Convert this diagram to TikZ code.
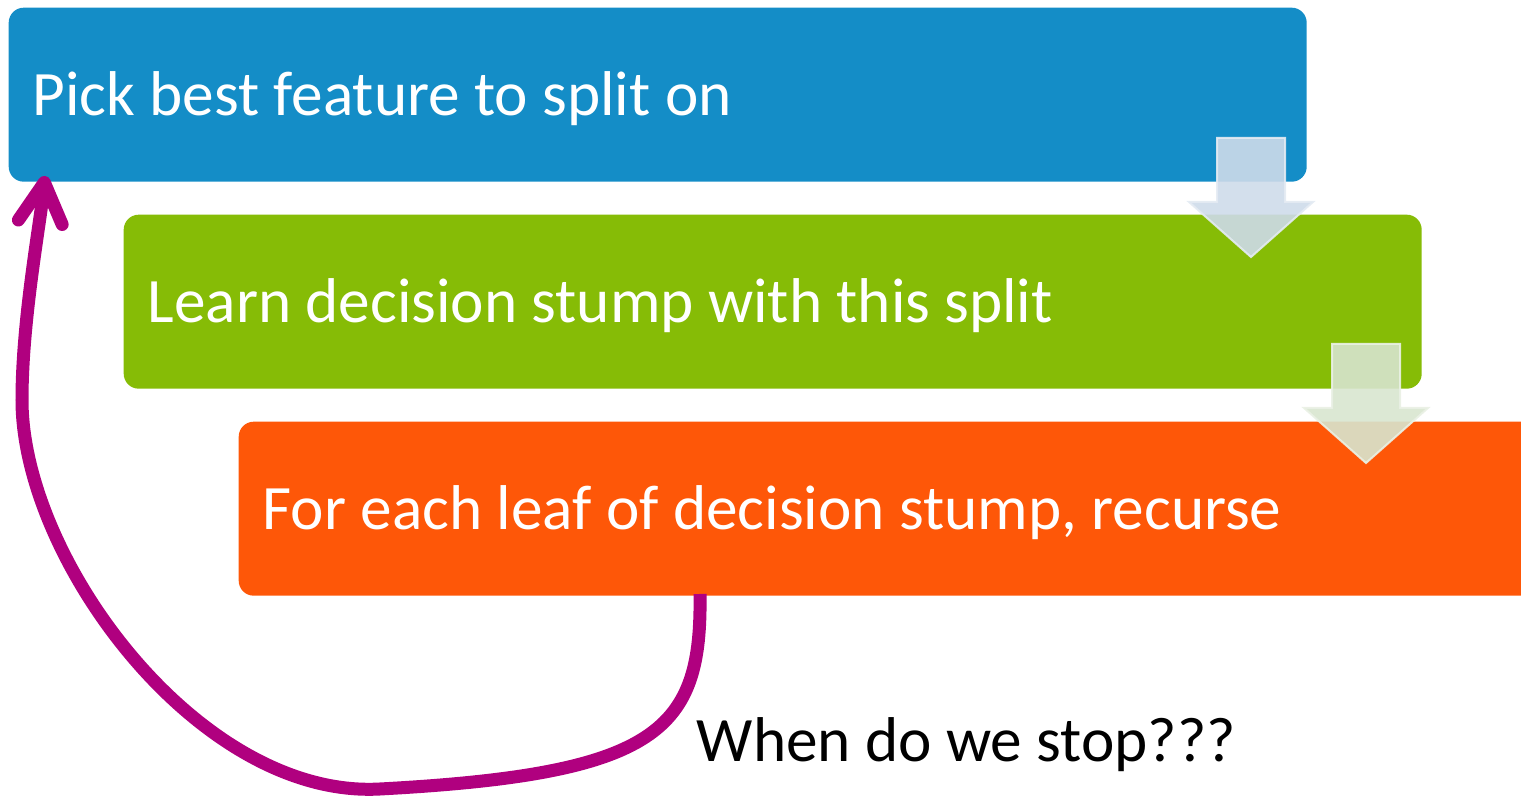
\documentclass[tikz,border=0pt]{standalone}
\usepackage{fontspec}
\setmainfont{Carlito}
\usetikzlibrary{arrows.meta}

\definecolor{pickblue}{HTML}{148DC7}
\definecolor{learngreen}{HTML}{86BC06}
\definecolor{recurseorange}{HTML}{FE5708}
\definecolor{loopmagenta}{HTML}{B0007F}
\definecolor{arrowblue}{HTML}{CEDBEA}
\definecolor{arrowgreen}{HTML}{D8E5CF}

\tikzset{
  stepbox/.style={rectangle, rounded corners=0.15cm, anchor=north west,
    minimum height=1.74cm, text width=12.5cm, inner xsep=0.24cm, align=flush left,
    text=white, font=\fontsize{18}{22}\selectfont,
    text height=0.53cm, text depth=0.12cm},
  flowarrow/.style={line width=0.02cm, fill opacity=0.9, draw opacity=0.9},
  loopline/.style={draw=loopmagenta, line width=0.13cm,
    -{Straight Barb[length=0.4cm, width=0.44cm, round]},
    preaction={draw=black!35, draw opacity=0.4,
      transform canvas={xshift=0.025cm, yshift=-0.025cm}}},
}

\begin{document}
\begin{tikzpicture}
  \useasboundingbox (0,0) rectangle (15.21,-7.98);

  % the three steps
  \node[stepbox, fill=pickblue] (pick) at (0.08,-0.07) {Pick best feature to split on};
  \node[stepbox, fill=learngreen] (learn) at (1.23,-2.14) {Learn decision stump with this split};
  \node[stepbox, fill=recurseorange, text width=12.8cm] (recurse) at (2.38,-4.21) {For each leaf of decision stump, recurse};

  % block arrows between the steps
  \foreach \cx/\ty/\c in {12.51/-1.38/arrowblue, 13.66/-3.44/arrowgreen}
    \filldraw[flowarrow, fill=\c, draw=\c!55!white]
      (\cx-0.34,\ty) -- (\cx+0.34,\ty) -- (\cx+0.34,\ty-0.64) -- (\cx+0.62,\ty-0.64)
      -- (\cx,\ty-1.19) -- (\cx-0.62,\ty-0.64) -- (\cx-0.34,\ty-0.64) -- cycle;

  \node[font=\fontsize{18}{22}\selectfont, anchor=base west, inner sep=0] (stop) at (6.96,-7.62) {When do we stop???};

  % loop back to the first step
  \coordinate (loopout) at (7.00,-5.94);
  \coordinate (loopin) at (0.45,-1.76);
  \draw[loopline] (loopout) .. controls (7.02,-7.30) and (6.60,-7.74) .. (3.80,-7.89)
    .. controls (2.00,-7.99) and (0.22,-5.60) .. (0.22,-4.00)
    .. controls (0.22,-3.20) and (0.40,-2.25) .. (loopin);
\end{tikzpicture}
\end{document}
